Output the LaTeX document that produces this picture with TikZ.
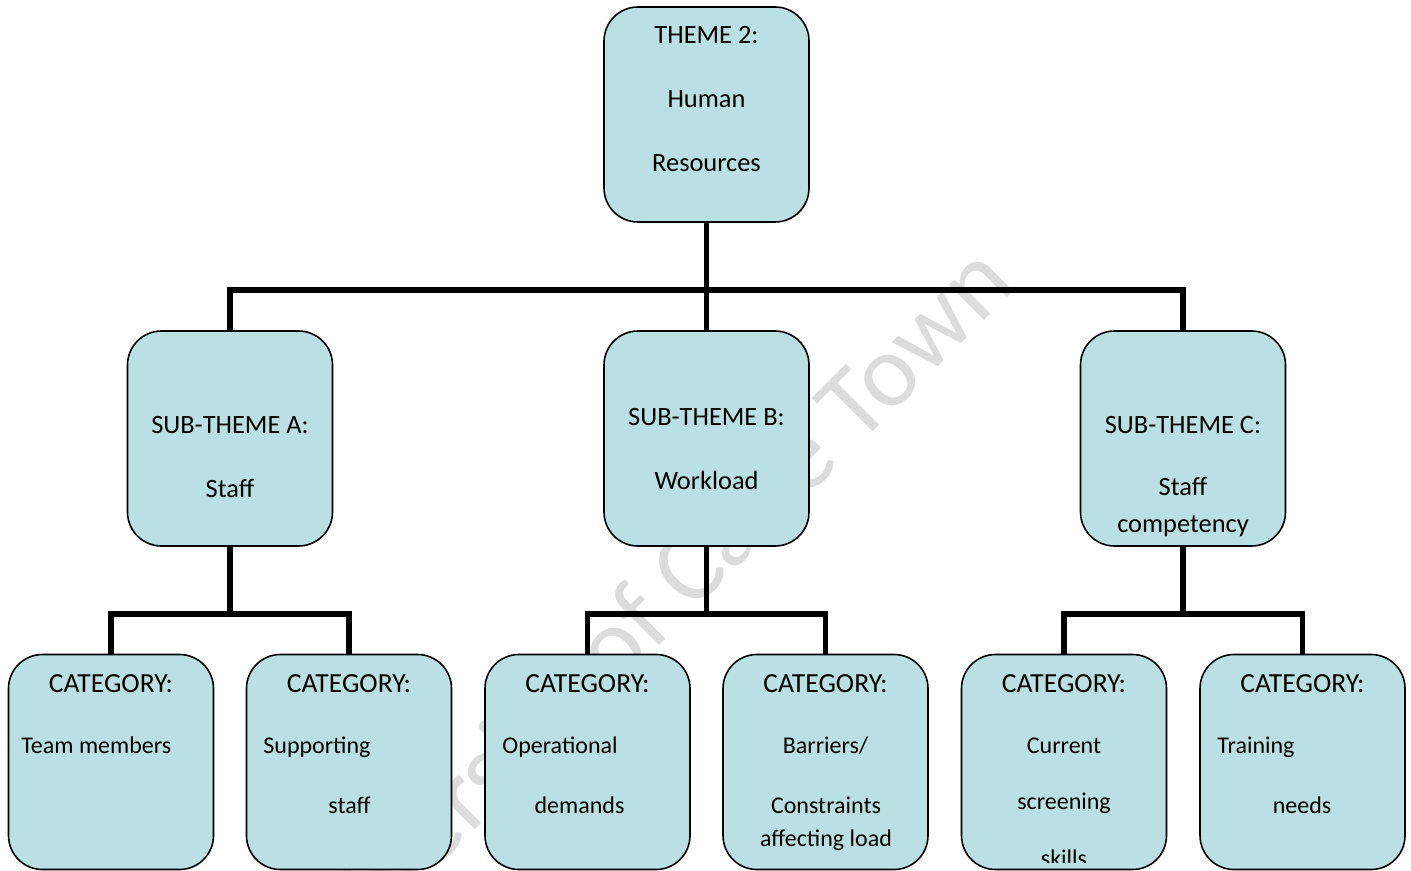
\documentclass[tikz,border=0pt]{standalone}
\usepackage{fontspec}
\setmainfont{Carlito}
\definecolor{boxfill}{RGB}{186,224,227}
\definecolor{wmgray}{RGB}{220,220,220}
\begin{document}
\begin{tikzpicture}[x=0.5pt,y=-0.5pt,
  box/.style={draw=black, line width=0.8pt, fill=boxfill, rounded corners=17pt,
    minimum width=102.5pt, minimum height=107.5pt, inner sep=0pt, outer sep=0pt},
  lbl/.style={font=\fontsize{13.2}{15}\selectfont, inner sep=0pt, anchor=base},
  head/.style={lbl, font=\fontsize{13.8}{16}\selectfont},
  body/.style={lbl, font=\fontsize{12}{14}\selectfont},
  bodyw/.style={body, anchor=base west},
  link/.style={line width=2.6pt},
  wm/.style={font=\fontsize{52}{60}\selectfont, text=wmgray, inner sep=0pt}]
\useasboundingbox (0,0) rectangle (1411,871);

% faint background stamp
\node[wm, rotate=45, anchor=base east] (stamp) at (1018,287) {University of Cape Town};

% joints of the connector tree
\coordinate (jT) at (706.5,290);
\coordinate (jA) at (230,614);
\coordinate (jB) at (706.5,614);
\coordinate (jC) at (1183,614);

% boxes
\node[box] (theme) at (706.5,114.5) {};
\node[box] (subA) at (230,438.5) {};
\node[box] (subB) at (706.5,438.5) {};
\node[box] (subC) at (1183,438.5) {};
\node[box] (cat1) at (111,762) {};
\node[box] (cat2) at (349,762) {};
\node[box] (cat3) at (587.5,762) {};
\node[box] (cat4) at (825.5,762) {};
\node[box] (cat5) at (1064,762) {};
\node[box] (cat6) at (1302.5,762) {};

% connectors
\draw[link] (theme.south) -- (jT);
\draw[link] (subA.north) |- (jT) -| (subC.north);
\draw[link] (jT) -- (subB.north);
\draw[link] (subA.south) -- (jA);
\draw[link] (cat1.north) |- (jA) -| (cat2.north);
\draw[link] (subB.south) -- (jB);
\draw[link] (cat3.north) |- (jB) -| (cat4.north);
\draw[link] (subC.south) -- (jC);
\draw[link] (cat5.north) |- (jC) -| (cat6.north);

% theme
\node[lbl] (th1) at (706.5,44) {THEME 2:};
\node[lbl] (th2) at (706.5,108) {Human};
\node[lbl] (th3) at (706.5,172) {Resources};

% sub-themes
\node[lbl] (sa1) at (230,433) {SUB-THEME A:};
\node[lbl] (sa2) at (230,497) {Staff};
\node[lbl] (sb1) at (706.5,425) {SUB-THEME B:};
\node[lbl] (sb2) at (706.5,489) {Workload};
\node[lbl] (sc1) at (1183,433) {SUB-THEME C:};
\node[lbl] (sc2) at (1183,495) {Staff};
\node[lbl] (sc3) at (1183,532) {competency};

% categories
\foreach \c/\x in {c1/111,c2/349,c3/587.5,c4/825.5,c5/1064,c6/1302.5}
  \node[head] (\c h) at (\x,692) {CATEGORY:};
\node[bodyw] (c1a) at (21,753) {Team members};
\node[bodyw] (c2a) at (263,753) {Supporting};
\node[body] (c2b) at (349.5,813) {staff};
\node[bodyw] (c3a) at (502,753) {Operational};
\node[body] (c3b) at (579.5,813) {demands};
\node[body] (c4a) at (825.5,753) {Barriers/};
\node[body] (c4b) at (826,813) {Constraints};
\node[body] (c4c) at (826,846) {affecting load};
\node[body] (c5a) at (1064,753) {Current};
\node[body] (c5b) at (1064,809) {screening};
\begin{scope}
  \clip (960,820) rectangle (1166,862);
  \node[body] (c5c) at (1064,866) {skills};
\end{scope}
\node[bodyw] (c6a) at (1217,753) {Training};
\node[body] (c6b) at (1302,813) {needs};
\end{tikzpicture}
\end{document}
